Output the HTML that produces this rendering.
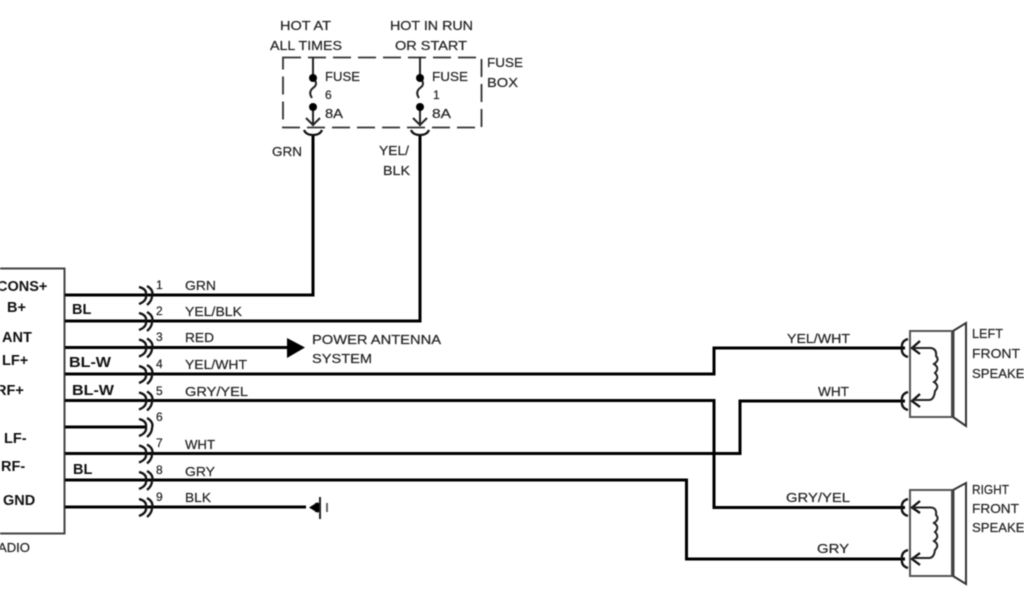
<!DOCTYPE html>
<html><head><meta charset="utf-8">
<style>
html,body{margin:0;padding:0;background:#fff}
svg{display:block;filter:blur(.4px)}
text{font-family:"Liberation Sans",sans-serif;font-size:13px;fill:#222;stroke:#222;stroke-width:.2px}
.n{font-size:12px}
.b{font-weight:bold;font-size:14.5px;fill:#111;stroke:none}
.w{fill:none;stroke:#000;stroke-width:3}
.c{fill:none;stroke:#111;stroke-width:2.3}
.t{fill:none;stroke:#222;stroke-width:2}
</style></head><body>
<svg width="1024" height="600" viewBox="0 0 1024 600" xmlns="http://www.w3.org/2000/svg">
<rect width="1024" height="600" fill="#fff"/>

<!-- radio box -->
<path d="M0 268.500H64.500V533.500H0" fill="none" stroke="#444" stroke-width="2"/>
<text class="b" x="-3" y="291">CONS+</text>
<text class="b" x="7" y="312">B+</text>
<text class="b" x="2" y="342">ANT</text>
<text class="b" x="2" y="365">LF+</text>
<text class="b" x="-4" y="395">RF+</text>
<text class="b" x="4" y="443">LF-</text>
<text class="b" x="1" y="471">RF-</text>
<text class="b" x="3" y="505">GND</text>
<text x="-2" y="552" textLength="32" lengthAdjust="spacingAndGlyphs">ADIO</text>
<text class="b" x="72" y="314">BL</text>
<text class="b" x="69" y="367" textLength="42" lengthAdjust="spacingAndGlyphs">BL-W</text>
<text class="b" x="72" y="395" textLength="42" lengthAdjust="spacingAndGlyphs">BL-W</text>
<text class="b" x="73" y="474">BL</text>

<!-- wires -->
<path class="w" d="M65 295H313V134"/>
<path class="w" d="M65 321H420V134"/>
<path class="w" d="M65 347.500H288"/>
<path class="w" d="M65 374H714V348H905"/>
<path class="w" d="M65 400.500H714V507.500H905"/>
<path class="w" d="M65 427H145"/>
<path class="w" d="M65 453.500H740V401H905"/>
<path class="w" d="M65 480H686.500V559H905"/>
<path class="w" d="M65 507H306"/>

<!-- connector glyphs -->
<g>
<path transform="translate(0,295)" d="M139 -8Q147 -6 146 0Q147 6 139 9M147 -9Q154 -5 152 1Q152 6 147 10" class="c"/>
<path transform="translate(0,321)" d="M139 -8Q147 -6 146 0Q147 6 139 9M147 -9Q154 -5 152 1Q152 6 147 10" class="c"/>
<path transform="translate(0,347.500)" d="M139 -8Q147 -6 146 0Q147 6 139 9M147 -9Q154 -5 152 1Q152 6 147 10" class="c"/>
<path transform="translate(0,374)" d="M139 -8Q147 -6 146 0Q147 6 139 9M147 -9Q154 -5 152 1Q152 6 147 10" class="c"/>
<path transform="translate(0,400.500)" d="M139 -8Q147 -6 146 0Q147 6 139 9M147 -9Q154 -5 152 1Q152 6 147 10" class="c"/>
<path transform="translate(0,427)" d="M139 -8Q147 -6 146 0Q147 6 139 9M147 -9Q154 -5 152 1Q152 6 147 10" class="c"/>
<path transform="translate(0,453.500)" d="M139 -8Q147 -6 146 0Q147 6 139 9M147 -9Q154 -5 152 1Q152 6 147 10" class="c"/>
<path transform="translate(0,480)" d="M139 -8Q147 -6 146 0Q147 6 139 9M147 -9Q154 -5 152 1Q152 6 147 10" class="c"/>
<path transform="translate(0,507)" d="M139 -8Q147 -6 146 0Q147 6 139 9M147 -9Q154 -5 152 1Q152 6 147 10" class="c"/>
</g>

<!-- pin numbers and wire labels -->
<text class="n" x="156" y="289">1</text>
<text class="n" x="156" y="315">2</text>
<text class="n" x="156" y="341">3</text>
<text class="n" x="156" y="368">4</text>
<text class="n" x="156" y="395">5</text>
<text class="n" x="156" y="421">6</text>
<text class="n" x="156" y="447">7</text>
<text class="n" x="156" y="474">8</text>
<text class="n" x="156" y="501">9</text>
<text x="185" y="290" textLength="31" lengthAdjust="spacingAndGlyphs">GRN</text>
<text x="185" y="316" textLength="57" lengthAdjust="spacingAndGlyphs">YEL/BLK</text>
<text x="185" y="342" textLength="29" lengthAdjust="spacingAndGlyphs">RED</text>
<text x="185" y="369" textLength="62" lengthAdjust="spacingAndGlyphs">YEL/WHT</text>
<text x="185" y="396" textLength="63" lengthAdjust="spacingAndGlyphs">GRY/YEL</text>
<text x="185" y="449" textLength="30" lengthAdjust="spacingAndGlyphs">WHT</text>
<text x="185" y="476" textLength="30" lengthAdjust="spacingAndGlyphs">GRY</text>
<text x="185" y="502" textLength="26" lengthAdjust="spacingAndGlyphs">BLK</text>

<!-- antenna arrow -->
<path d="M287 338L305 347.500L287 358Z" fill="#000"/>
<text x="312" y="344" textLength="129" lengthAdjust="spacingAndGlyphs">POWER ANTENNA</text>
<text x="312" y="363" textLength="60" lengthAdjust="spacingAndGlyphs">SYSTEM</text>

<!-- ground -->
<path d="M309 507.500L318 502V513Z" fill="#000"/>
<rect x="315" y="503" width="4" height="9" fill="#000"/>
<path d="M320 497V519" stroke="#222" stroke-width="2"/>
<path d="M327 503V512" stroke="#555" stroke-width="1.800"/>

<!-- fuse box -->
<path d="M283 57.500H481.500V127.500H283Z" fill="none" stroke="#333" stroke-width="1.800" stroke-dasharray="18 7"/>
<text x="280" y="30" textLength="51" lengthAdjust="spacingAndGlyphs">HOT AT</text>
<text x="270" y="50" textLength="72" lengthAdjust="spacingAndGlyphs">ALL TIMES</text>
<text x="390" y="30" textLength="83" lengthAdjust="spacingAndGlyphs">HOT IN RUN</text>
<text x="395" y="50" textLength="72" lengthAdjust="spacingAndGlyphs">OR START</text>
<text x="487" y="67" textLength="36" lengthAdjust="spacingAndGlyphs">FUSE</text>
<text x="487" y="87" textLength="31" lengthAdjust="spacingAndGlyphs">BOX</text>

<g>
<path class="t" d="M313 57V77M313 78Q319 84 313 88Q308 92 312 98M313 107V126M306 118L313 125L320 118"/>
<circle cx="313" cy="78" r="4" fill="#000"/><circle cx="313" cy="107" r="4" fill="#000"/>
<path class="c" d="M304 130Q306 135 313 135Q320 135 322 130"/>
<path class="t" d="M420 57V77M420 78Q426 84 420 88Q415 92 419 98M420 107V126M413 118L420 125L427 118"/>
<circle cx="420" cy="78" r="4" fill="#000"/><circle cx="420" cy="107" r="4" fill="#000"/>
<path class="c" d="M411 130Q413 135 420 135Q427 135 429 130"/>
</g>
<text x="325" y="81" textLength="35" lengthAdjust="spacingAndGlyphs">FUSE</text>
<text class="n" x="325" y="99">6</text>
<text x="325" y="118" textLength="18" lengthAdjust="spacingAndGlyphs">8A</text>
<text x="432" y="81" textLength="36" lengthAdjust="spacingAndGlyphs">FUSE</text>
<text class="n" x="433" y="99">1</text>
<text x="432" y="118" textLength="19" lengthAdjust="spacingAndGlyphs">8A</text>
<text x="272" y="156" textLength="30" lengthAdjust="spacingAndGlyphs">GRN</text>
<text x="379" y="155" textLength="30" lengthAdjust="spacingAndGlyphs">YEL/</text>
<text x="383" y="175" textLength="27" lengthAdjust="spacingAndGlyphs">BLK</text>

<!-- right labels -->
<text x="787" y="343" textLength="63" lengthAdjust="spacingAndGlyphs">YEL/WHT</text>
<text x="818" y="396" textLength="31" lengthAdjust="spacingAndGlyphs">WHT</text>
<text x="786" y="502" textLength="64" lengthAdjust="spacingAndGlyphs">GRY/YEL</text>
<text x="817" y="553" textLength="32" lengthAdjust="spacingAndGlyphs">GRY</text>

<!-- left speaker -->
<g>
<rect x="910" y="331" width="42" height="86" fill="none" stroke="#555" stroke-width="2"/>
<path d="M953 331V417" stroke="#444" stroke-width="3"/>
<path d="M953 331L966 323V426L953 417" fill="none" stroke="#333" stroke-width="2"/>
<path class="c" d="M908 339Q901 341 902 348Q901 355 908 357"/>
<path class="c" d="M908 392Q901 394 902 401Q901 408 908 410"/>
<path class="c" d="M920 341L912 348L920 354M920 394L912 401L920 407"/>
<path class="t" d="M912 348H931Q937 349 936 356Q940 360 934 364Q940 368 935 373Q940 378 934 382Q940 386 935 391Q934 400 929 400H912"/>
</g>
<text x="972" y="338" textLength="31" lengthAdjust="spacingAndGlyphs">LEFT</text>
<text x="972" y="358" textLength="48" lengthAdjust="spacingAndGlyphs">FRONT</text>
<text x="972" y="378" textLength="62" lengthAdjust="spacingAndGlyphs">SPEAKER</text>

<!-- right speaker -->
<g>
<rect x="910" y="490" width="42" height="86" fill="none" stroke="#555" stroke-width="2"/>
<path d="M953 490V576" stroke="#444" stroke-width="3"/>
<path d="M953 490L966 483V584L953 576" fill="none" stroke="#333" stroke-width="2"/>
<path class="c" d="M908 499Q901 501 902 507.500Q901 514 908 516"/>
<path class="c" d="M908 550Q901 552 902 559Q901 566 908 568"/>
<path class="c" d="M920 501L912 507.500L920 513M920 553L912 559L920 565"/>
<path class="t" d="M912 507.500H931Q937 508 936 515Q940 519 934 523Q940 527 935 532Q940 537 934 541Q940 545 935 550Q934 558 929 558H912"/>
</g>
<text x="972" y="494" textLength="37" lengthAdjust="spacingAndGlyphs">RIGHT</text>
<text x="972" y="513" textLength="47" lengthAdjust="spacingAndGlyphs">FRONT</text>
<text x="972" y="532" textLength="62" lengthAdjust="spacingAndGlyphs">SPEAKER</text>
</svg>
</body></html>
